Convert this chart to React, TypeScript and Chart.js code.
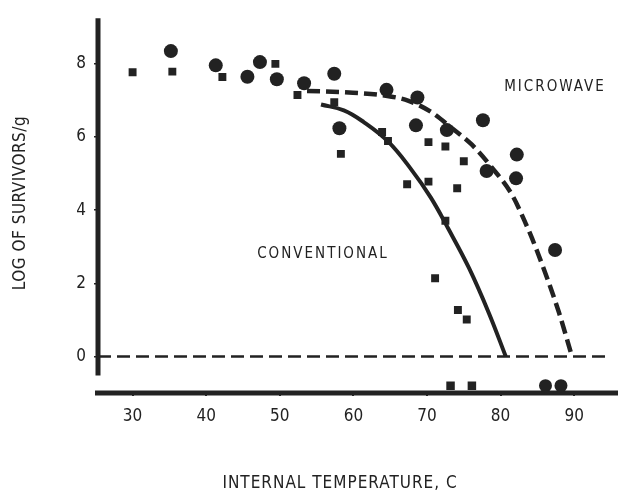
import React, { useEffect, useRef } from 'react';
import { Chart, registerables } from 'chart.js';

Chart.register(...registerables);

// ---- data ----
const X_TICKS = [30, 40, 50, 60, 70, 80, 90];
const Y_TICKS = [0, 2, 4, 6, 8];

// circles (microwave)
const MICRO_T = [35.2, 41.3, 45.6, 47.3, 49.6, 53.3, 57.4, 58.1, 64.5, 68.7, 68.5, 72.7, 77.6, 78.1, 82.2, 82.1, 87.4];
const MICRO_LOG = [8.35, 7.96, 7.65, 8.05, 7.58, 7.47, 7.73, 6.24, 7.29, 7.08, 6.32, 6.19, 6.46, 5.07, 5.52, 4.87, 2.91];

// squares (conventional)
const CONV_T = [30.0, 35.4, 42.2, 49.4, 52.4, 57.4, 58.3, 63.9, 64.7, 67.3, 70.2, 70.2, 72.5, 72.5, 75.0, 74.1, 71.1, 74.2, 75.4];
const CONV_LOG = [7.77, 7.79, 7.64, 8.0, 7.15, 6.95, 5.54, 6.14, 5.89, 4.71, 5.86, 4.78, 5.74, 3.71, 5.34, 4.6, 2.14, 1.27, 1.01];

// below-detection markers sitting on the temperature axis
const CONV_ND_T = [73.2, 76.1];
const MICRO_ND_T = [86.1, 88.2];
const ND_LOG = -0.8;

// fitted curves
const CONV_CURVE_T = [55.6, 58.7, 61.4, 64.7, 67.8, 70.5, 72.9, 75.7, 78.4, 80.7];
const CONV_CURVE_LOG = [6.89, 6.73, 6.41, 5.88, 5.13, 4.35, 3.49, 2.42, 1.19, 0];

const MICRO_CURVE_T = [53.7, 59.4, 64.4, 67.5, 70.6, 73.4, 76.1, 78.8, 81.5, 83.4, 84.9, 87.9, 89.7];
const MICRO_CURVE_LOG = [7.26, 7.22, 7.13, 6.99, 6.68, 6.24, 5.79, 5.17, 4.44, 3.64, 2.91, 1.22, 0];

// zero (detection limit) reference line
const ZERO_T = [25.3, 94.3];
const ZERO_LOG = [0, 0];

const X_MIN = 25.3;
const X_MAX = 95;
const Y_MIN = -1;
const Y_MAX = 9.25;
const Y_AXIS_END = -0.52;

const X_TITLE = 'INTERNAL TEMPERATURE, C';
const Y_TITLE = 'LOG OF SURVIVORS/g';
const MICRO_LABEL = 'MICROWAVE';
const CONV_LABEL = 'CONVENTIONAL';

const INK = '#222222';
const FONT = '"Liberation Sans Narrow", "DejaVu Sans Condensed", "Liberation Sans", sans-serif';

const pts = (xs: number[], ys: number[]) => xs.map((x, i) => ({ x, y: ys[i] }));

const figurePlugin = {
  id: 'figureDecor',
  beforeDatasetsDraw(chart: any) {
    const { ctx, chartArea, scales } = chart;
    const y = scales.y;
    ctx.save();
    ctx.strokeStyle = INK;
    ctx.lineWidth = 5;
    ctx.beginPath();
    ctx.moveTo(chartArea.left, chartArea.top);
    ctx.lineTo(chartArea.left, y.getPixelForValue(Y_AXIS_END));
    ctx.stroke();
    const ay = y.getPixelForValue(Y_MIN);
    ctx.beginPath();
    ctx.moveTo(chartArea.left - 3, ay);
    ctx.lineTo(chart.width, ay);
    ctx.stroke();
    ctx.restore();
  },
  afterDraw(chart: any) {
    const { ctx } = chart;
    ctx.save();
    ctx.fillStyle = INK;
    ctx.textAlign = 'center';
    ctx.textBaseline = 'middle';
    (ctx as any).letterSpacing = '1px';
    ctx.font = `17px ${FONT}`;
    ctx.fillText(X_TITLE, 340, 484);
    (ctx as any).letterSpacing = '0.5px';
    ctx.save();
    ctx.translate(21, 203);
    ctx.rotate(-Math.PI / 2);
    ctx.fillText(Y_TITLE, 0, 0);
    ctx.restore();
    (ctx as any).letterSpacing = '2px';
    ctx.font = `15px ${FONT}`;
    ctx.fillText(MICRO_LABEL, 555, 87);
    ctx.fillText(CONV_LABEL, 323, 254);
    ctx.restore();
  },
};

export default function App() {
  const ref = useRef<HTMLCanvasElement | null>(null);
  useEffect(() => {
    if (!ref.current) return;
    const chart = new Chart(ref.current, {
      type: 'scatter',
      data: {
        datasets: [
          {
            label: 'zero',
            data: pts(ZERO_T, ZERO_LOG),
            showLine: true,
            borderColor: INK,
            borderWidth: 2.5,
            borderDash: [13, 6],
            pointRadius: 0,
          },
          {
            label: 'conventional curve',
            data: pts(CONV_CURVE_T, CONV_CURVE_LOG),
            showLine: true,
            borderColor: INK,
            borderWidth: 4,
            pointRadius: 0,
            tension: 0.4,
          },
          {
            label: 'microwave curve',
            data: pts(MICRO_CURVE_T, MICRO_CURVE_LOG),
            showLine: true,
            borderColor: INK,
            borderWidth: 4.5,
            borderDash: [13, 6],
            pointRadius: 0,
            cubicInterpolationMode: 'monotone',
          },
          {
            label: 'conventional',
            data: pts(CONV_T, CONV_LOG),
            pointStyle: 'rect',
            pointRadius: 5.6,
            backgroundColor: INK,
            borderColor: INK,
            borderWidth: 0,
          },
          {
            label: 'microwave',
            data: pts(MICRO_T, MICRO_LOG),
            pointStyle: 'circle',
            pointRadius: 7,
            backgroundColor: INK,
            borderColor: INK,
            borderWidth: 0,
          },
          {
            label: 'conventional nd',
            data: CONV_ND_T.map((x) => ({ x, y: ND_LOG })),
            pointStyle: 'rect',
            pointRadius: 6,
            backgroundColor: INK,
            borderWidth: 0,
          },
          {
            label: 'microwave nd',
            data: MICRO_ND_T.map((x) => ({ x, y: ND_LOG })),
            pointStyle: 'circle',
            pointRadius: 6.5,
            backgroundColor: INK,
            borderWidth: 0,
          },
        ],
      },
      options: {
        responsive: false,
        animation: false,
        events: [],
        layout: { padding: { left: 0, right: 5, top: 10, bottom: 0 } },
        plugins: { legend: { display: false }, tooltip: { enabled: false } },
        scales: {
          x: {
            type: 'linear',
            min: X_MIN,
            max: X_MAX,
            afterBuildTicks: (s: any) => {
              s.ticks = X_TICKS.map((v) => ({ value: v }));
            },
            afterFit: (s: any) => {
              s.height = 102;
            },
            border: { display: false },
            grid: { display: true, drawOnChartArea: false, drawTicks: true, tickLength: 3, color: INK, lineWidth: 2 },
            ticks: { color: INK, padding: 10, font: { family: FONT, size: 17 }, maxRotation: 0, autoSkip: false },
          },
          y: {
            type: 'linear',
            min: Y_MIN,
            max: Y_MAX,
            afterBuildTicks: (s: any) => {
              s.ticks = Y_TICKS.map((v) => ({ value: v }));
            },
            afterFit: (s: any) => {
              s.width = 98;
            },
            border: { display: false },
            grid: { display: true, drawOnChartArea: false, drawTicks: true, tickLength: 4, color: INK, lineWidth: 1.5 },
            ticks: { color: INK, padding: 8, font: { family: FONT, size: 17 }, autoSkip: false },
          },
        },
      },
      plugins: [figurePlugin],
    } as any);
    return () => chart.destroy();
  }, []);
  return (
    <div style={{ position: 'absolute', left: 0, top: 0, width: 618, height: 495, background: '#fff' }}>
      <canvas ref={ref} width={618} height={495} />
    </div>
  );
}
